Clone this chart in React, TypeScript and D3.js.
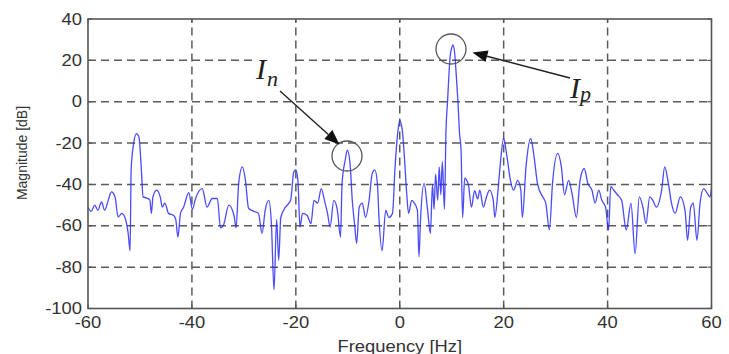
import React from "react";
import * as d3 from "d3";

const freqHz = [
  -60.0, -59.4, -58.7, -58.1, -57.4, -56.8, -56.1, -55.5, -54.8, -54.2, -53.5, -52.9, -52.3, -51.9, -51.7, -51.2,
  -50.7, -50.2, -49.7, -49.4, -48.8, -48.1, -47.8, -47.5, -46.8, -46.1, -45.7, -45.2, -44.5, -43.5, -43.1, -42.7,
  -42.2, -41.6, -40.6, -39.9, -39.3, -38.0, -37.1, -36.1, -35.1, -34.5, -33.9, -32.9, -31.9, -31.5, -31.0, -30.3,
  -29.7, -29.1, -28.1, -27.2, -26.5, -25.9, -25.2, -24.7, -24.2, -23.7, -23.3, -22.9, -22.0, -21.0, -20.4, -20.0,
  -19.6, -19.2, -18.7, -17.8, -17.1, -16.5, -15.8, -15.1, -14.5, -13.9, -13.4, -12.7, -12.0, -11.4, -11.1, -10.5,
  -10.1, -9.6, -9.1, -8.7, -8.3, -7.8, -7.2, -6.6, -5.9, -5.3, -4.8, -4.3, -4.0, -3.4, -2.7, -2.1,
  -1.4, -0.9, -0.4, 0.0, 0.5, 0.9, 1.3, 1.7, 2.3, 2.8, 3.4, 3.7, 4.0, 4.7, 5.3, 5.9,
  6.3, 6.6, 6.9, 7.3, 7.6, 7.9, 8.2, 8.6, 8.9, 9.2, 9.4, 9.7, 10.0, 10.2, 10.5, 10.9,
  11.2, 11.5, 11.8, 12.1, 12.5, 13.2, 13.8, 14.4, 15.0, 15.4, 16.1, 16.7, 17.3, 18.0, 18.3, 18.8,
  19.3, 20.0, 20.6, 21.3, 21.9, 22.7, 23.3, 23.6, 24.3, 25.2, 25.9, 26.5, 27.5, 28.1, 28.8, 29.4,
  30.4, 31.1, 31.7, 32.5, 33.2, 34.0, 34.7, 35.5, 36.2, 37.0, 37.6, 38.3, 38.9, 39.6, 40.2, 40.6,
  41.2, 41.9, 42.7, 43.6, 44.5, 45.3, 46.1, 46.8, 47.4, 48.1, 48.7, 49.4, 50.4, 51.0, 51.7, 52.3,
  53.0, 54.0, 54.9, 55.4, 56.0, 56.5, 57.2, 57.8, 58.5, 59.1, 59.7, 60.0,
];

const magnitudeDb = [
  -51, -53, -50, -52.5, -48.5, -52.5, -47.7, -43.6, -46, -55.8, -54, -56, -63, -72, -33, -20,
  -15.4, -17, -34, -46, -46.5, -47.5, -54, -46, -42.8, -46, -51, -49, -54, -55, -57, -65.5,
  -54, -51, -44, -52, -46.8, -42, -51, -46.8, -46.8, -61, -59.5, -50, -55, -61, -39.5, -31.5,
  -38, -51.5, -53, -54, -63.7, -52.5, -47.7, -59, -91, -57, -76.7, -56, -51, -47.7, -34, -33,
  -38, -60.6, -54, -55, -59, -47.7, -49, -42, -47.7, -54, -60.6, -47.7, -52.5, -65.5, -39.5, -28.3,
  -23.4, -29, -49, -59, -68.5, -51, -49, -56, -47.7, -34.7, -33, -39.5, -56, -72, -52.5, -56,
  -54, -31.5, -15.3, -9, -14, -27, -43, -54, -47.7, -49, -52.5, -75, -57, -39.5, -51, -63.7,
  -40, -52, -35, -47.7, -31.5, -45, -29, -52, -14, 0, 10, 22, 26, 27.5, 25, 12,
  0, -15, -23.4, -56, -37, -40, -51, -43, -47, -42.8, -51, -46, -42.8, -47.7, -56, -46,
  -31.5, -17.8, -26, -38, -42.8, -38, -42.8, -56, -31.5, -17.8, -27.5, -39.5, -46, -49, -62, -39.5,
  -25, -31.5, -45, -38, -45, -56, -38, -32.3, -39.5, -42.8, -49, -42.8, -47.7, -51, -62, -41,
  -42.8, -45, -47.7, -62, -49, -73.5, -46, -51, -59, -46, -47.7, -51, -42.8, -31.5, -39.5, -49,
  -54, -46, -52.5, -67, -51, -49, -67, -49, -42, -44, -46, -42,
];

const xTicks = [-60, -40, -20, 0, 20, 40, 60];
const yTicks = [40, 20, 0, -20, -40, -60, -80, -100];
const xLabel = "Frequency [Hz]";
const yLabel = "Magnitude [dB]";

export default function App() {
  const W = 729;
  const H = 354;
  const x = d3.scaleLinear().domain([-60, 60]).range([88, 711.5]);
  const y = d3.scaleLinear().domain([-100, 40]).range([308.5, 19]);
  const pts: [number, number][] = freqHz.map((f, i) => [f, magnitudeDb[i]]);
  const line = d3
    .line<[number, number]>()
    .x((d) => x(d[0]))
    .y((d) => y(d[1]))
    .curve(d3.curveMonotoneX);

  const gridColor = "#4a4a4a";
  const frameColor = "#555";
  const x0 = x(-60), x1 = x(60), y0 = y(-100), y1 = y(40);
  const tickFont = "'Liberation Sans', Arial, sans-serif";
  const serif = "'Liberation Serif', 'Times New Roman', serif";

  const arrow = (sx: number, sy: number, tx: number, ty: number) => {
    const ang = Math.atan2(ty - sy, tx - sx);
    const L = 15, Wd = 6;
    const bx = tx - L * Math.cos(ang), by = ty - L * Math.sin(ang);
    const px = -Math.sin(ang) * Wd, py = Math.cos(ang) * Wd;
    return (
      <g>
        <line x1={sx} y1={sy} x2={bx} y2={by} stroke="#222" strokeWidth={1.4} />
        <polygon points={`${tx},${ty} ${bx + px},${by + py} ${bx - px},${by - py}`} fill="#111" />
      </g>
    );
  };

  return (
    <svg width={W} height={H} style={{ position: "absolute", left: 0, top: 0, background: "#fff" }}>
      <rect x={0} y={0} width={W} height={H} fill="#fff" />
      <g stroke={gridColor} strokeWidth={1.5} strokeDasharray="8,5" opacity={0.9}>
        {xTicks.filter((t) => t > -60 && t < 60).map((t) => (
          <line key={"gx" + t} x1={x(t)} x2={x(t)} y1={y0} y2={y1} />
        ))}
        {yTicks.filter((t) => t > -100 && t < 40).map((t) => (
          <line key={"gy" + t} x1={x0} x2={x1} y1={y(t)} y2={y(t)} />
        ))}
      </g>
      <path d={line(pts) || ""} fill="none" stroke="#2a2aff" strokeWidth={1.3} strokeOpacity={0.85} strokeLinejoin="round" />
      <rect x={x0} y={y1} width={x1 - x0} height={y0 - y1} fill="none" stroke={frameColor} strokeWidth={1.6} />
      <g stroke={frameColor} strokeWidth={1.2}>
        {xTicks.map((t) => (
          <g key={"tx" + t}>
            <line x1={x(t)} x2={x(t)} y1={y0} y2={y0 - 4} />
            <line x1={x(t)} x2={x(t)} y1={y1} y2={y1 + 4} />
          </g>
        ))}
        {yTicks.map((t) => (
          <g key={"ty" + t}>
            <line x1={x0} x2={x0 + 4} y1={y(t)} y2={y(t)} />
            <line x1={x1} x2={x1 - 4} y1={y(t)} y2={y(t)} />
          </g>
        ))}
      </g>
      <g fill="#333" fontFamily={tickFont} fontSize={16}>
        {yTicks.map((t) => (
          <text key={"ly" + t} transform={`translate(${82},${y(t) + 5.7}) scale(1.15,1)`} textAnchor="end">
            {t}
          </text>
        ))}
        {xTicks.map((t) => (
          <text key={"lx" + t} transform={`translate(${x(t)},${328}) scale(1.15,1)`} textAnchor="middle">
            {t}
          </text>
        ))}
        <text transform={`translate(${x(0)},${352}) scale(1.15,1)`} textAnchor="middle">
          {xLabel}
        </text>
      </g>
      <text
        transform={`translate(${27},${153}) rotate(-90)`}
        textAnchor="middle"
        fontFamily={tickFont}
        fontSize={14}
        fill="#333"
      >
        {yLabel}
      </text>
      <circle cx={347} cy={156} r={15} fill="none" stroke="#555" strokeWidth={1.3} />
      <circle cx={451} cy={49} r={15} fill="none" stroke="#555" strokeWidth={1.3} />
      <rect x={253} y={50} width={42} height={40} fill="#fff" />
      {arrow(280, 91, 339.5, 144.5)}
      {arrow(570, 78, 472.5, 52.5)}
      <g fontFamily={serif} fontStyle="italic" fill="#222">
        <text x={256} y={79} fontSize={30}>I</text>
        <text x={267} y={86} fontSize={22}>n</text>
        <text x={570} y={98} fontSize={30}>I</text>
        <text x={580} y={101} fontSize={22}>p</text>
      </g>
    </svg>
  );
}
